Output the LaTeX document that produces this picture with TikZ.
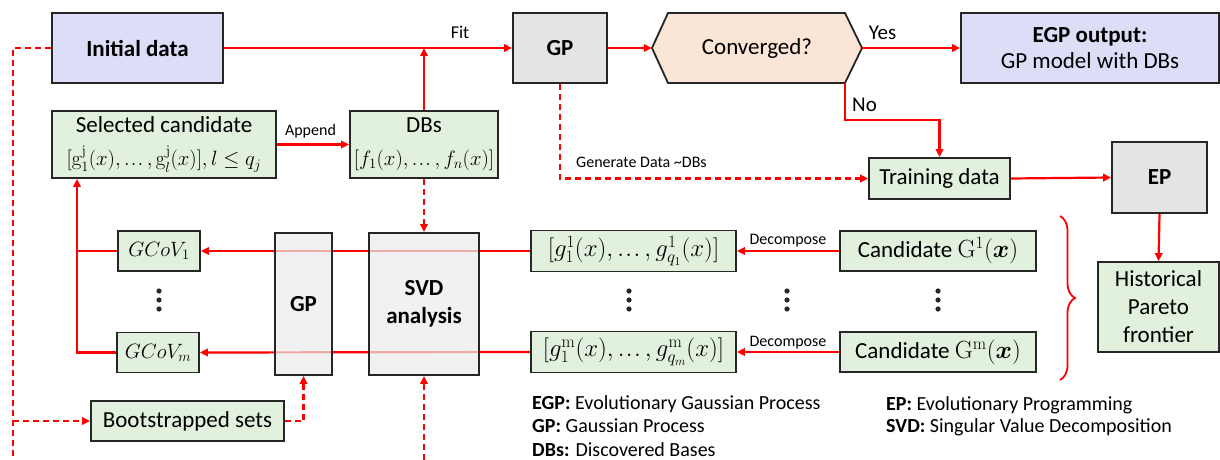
\documentclass[tikz,border=0pt]{standalone}
\usepackage{amsmath}
\usepackage[no-math]{fontspec}
\setmainfont{Carlito}
\usetikzlibrary{arrows.meta,decorations.pathreplacing}

\definecolor{ink}{RGB}{38,38,38}
\definecolor{flowred}{RGB}{255,0,0}
\definecolor{boxgreen}{RGB}{226,240,222}
\definecolor{boxlav}{RGB}{221,221,248}
\definecolor{boxgray}{RGB}{228,228,228}
\definecolor{boxlight}{RGB}{236,236,236}
\definecolor{boxpeach}{RGB}{251,229,214}

\newcommand\fbig{\fontsize{23}{28}\selectfont}
\newcommand\fsmall{\fontsize{16}{19}\selectfont}
\newcommand\flegend{\fontsize{20}{24}\selectfont}
\newcommand\fmath{\fontsize{21.5}{26}\selectfont}
% compact baseline ellipsis
\newcommand\elps{\mathinner{{.}\mkern1mu{.}\mkern1mu{.}}}

\tikzset{
  box/.style={draw=ink, line width=1.8pt, inner sep=0pt, align=center, font=\fbig},
  greenbox/.style={box, fill=boxgreen},
  lavbox/.style={box, fill=boxlav},
  graybox/.style={box, fill=boxgray},
  glassbox/.style={box, fill=boxlight, fill opacity=0.72, text opacity=1},
  flow/.style={draw=flowred, line width=2.2pt, -{Triangle[length=8pt,width=7.5pt]}},
  plainflow/.style={draw=flowred, line width=2.2pt},
  dflow/.style={flow, dash pattern=on 6pt off 4pt},
  dline/.style={plainflow, dash pattern=on 6pt off 4pt},
  tag/.style={inner sep=0pt, anchor=base, font=\fsmall},
  legend/.style={inner sep=0pt, anchor=base west, font=\flegend},
}

\begin{document}
\begin{tikzpicture}[x=1pt,y=-1pt]
\useasboundingbox (0,0) rectangle (1220,460);

% ---- top row ----
\node[lavbox, minimum width=171pt, minimum height=70pt, font=\fbig\bfseries] (init) at (137.5,48) {Initial data};
\node[graybox, minimum width=94pt, minimum height=70pt, font=\fbig\bfseries] (gpfit) at (560,48) {GP};
\path[draw=ink, line width=1.8pt, fill=boxpeach] (652,48) -- (668,13) -- (845,13) -- (862,48) -- (845,83) -- (668,83) -- cycle;
\node[inner sep=0pt, minimum width=210pt, minimum height=70pt, font=\fbig] (conv) at (757,48) {Converged?};
\coordinate (convcorner) at (845,83);
\node[lavbox, minimum width=258pt, minimum height=70pt, font=\fontsize{23}{26}\selectfont] (egp) at (1090,48) {\textbf{EGP output:}\\GP model with DBs};

% ---- second row ----
\node[greenbox, minimum width=224pt, minimum height=67pt, font=\fontsize{23}{33}\selectfont] (sel) at (164,144.5)
  {Selected candidate\\{\fontsize{22.5}{26}\selectfont$[\mathrm{g}^{\mathrm{j}}_1(x),\elps,\mathrm{g}^{\mathrm{j}}_l(x)], l\leq q_j$}};
\node[greenbox, minimum width=148pt, minimum height=67pt, font=\fontsize{23}{33}\selectfont] (dbs) at (424,144.5)
  {DBs\\{\fmath$[f_1(x),\elps,f_n(x)]$}};
\node[greenbox, minimum width=141pt, minimum height=41pt] (train) at (939.5,178.5) {Training data};
\node[graybox, minimum width=95pt, minimum height=71pt, font=\fbig\bfseries] (ep) at (1159.5,177.5) {EP};
\node[greenbox, minimum width=121pt, minimum height=90pt] (hist) at (1158.5,307) {Historical\\Pareto\\frontier};

% ---- candidate rows ----
\node[greenbox, minimum width=196pt, minimum height=40pt] (cand1) at (938,251) {Candidate $\mathrm{G}^{1}(\boldsymbol{x})$};
\node[greenbox, minimum width=196pt, minimum height=40pt] (candm) at (938,352) {Candidate $\mathrm{G}^{\mathrm{m}}(\boldsymbol{x})$};
\node[greenbox, minimum width=205pt, minimum height=41pt] (dec1) at (633.5,251) {$[g^1_1(x),\elps,g^1_{q_1}(x)]$};
\node[greenbox, minimum width=205pt, minimum height=41pt] (decm) at (633.5,352) {$[g^{\mathrm{m}}_1(x),\elps,g^{\mathrm{m}}_{q_m}(x)]$};
\node[greenbox, minimum width=82pt, minimum height=40pt, font=\fmath] (cov1) at (159,251) {$GCoV_1$};
\node[greenbox, minimum width=82pt, minimum height=40pt, font=\fmath] (covm) at (158,352.5) {$GCoV_m$};
\node[greenbox, minimum width=193pt, minimum height=40pt] (boot) at (187.5,421) {Bootstrapped sets};

% long returns run underneath the GP and SVD blocks
\draw[flow] (dec1.west) -- (cov1.east);
\draw[flow] (decm.west) -- (covm.east);

\node[glassbox, minimum width=57pt, minimum height=142pt, font=\fbig\bfseries] (gpboot) at (303.5,304) {GP};
\node[glassbox, minimum width=110pt, minimum height=142pt, font=\fontsize{23}{28}\selectfont\bfseries] (svd) at (424,304) {SVD\\analysis};

% vertical ellipses
\foreach \x in {159,629,787,938}
  \foreach \y in {291,300,309}
    \fill[ink] (\x,\y) circle (2.6pt);

% ---- connectors ----
\draw[flow] (init.east) -- (gpfit.west);
\draw[flow] (dbs.north) -- (dbs.north |- init.east);
\draw[flow] (gpfit.east) -- (conv.west);
\draw[flow] (conv.east) -- (egp.west);
\draw[flow] (convcorner) -- (845,120) -| (train.north);
\draw[dflow] (gpfit.south) |- (train.west);
\draw[flow] (train.east) -- (ep.west);
\draw[flow] (ep.south) -- (hist.north);
\draw[flow] (sel.east) -- (dbs.west);
\draw[dflow] (dbs.south) -- (svd.north);
\draw[flow] (cand1.west) -- (dec1.east);
\draw[flow] (candm.west) -- (decm.east);

\coordinate (rail) at (77,0);
\draw[plainflow] (cov1.west) -- (cov1.west -| rail);
\draw[flow] (covm.west) -| (sel.south -| rail);

\coordinate (dashrail) at (13,460);
\draw[dline] (init.west) -| (dashrail);
\draw[dflow] (boot.west -| dashrail) -- (boot.west);
\draw[dflow] (boot.east) -| (gpboot.south);
\coordinate (svdfeed) at (424,460);
\draw[dflow] (svdfeed) -- (svd.south);

% brace grouping the candidates
\draw[flowred, line width=1.8pt, decorate, decoration={brace, amplitude=15pt}] (1060,216) -- (1060,380);

% ---- connector labels ----
\node[tag, font=\fontsize{18}{20}\selectfont] (fitlbl) at (460,39) {Fit};
\node[tag, font=\fontsize{21}{24}\selectfont] (yeslbl) at (882.5,40) {Yes};
\node[tag, font=\fontsize{21}{24}\selectfont] (nolbl) at (864.5,111) {No};
\node[tag] (applbl) at (310.5,135) {Append};
\node[tag, anchor=base west] (genlbl) at (576,167) {Generate Data \textasciitilde DBs};
\node[tag] (dec1lbl) at (788,244) {Decompose};
\node[tag] (decmlbl) at (788,346) {Decompose};

% ---- legend ----
\node[legend] (lgegp) at (532,409) {\textbf{EGP:} Evolutionary Gaussian Process};
\node[legend] (lggp) at (532,432) {\textbf{GP:} Gaussian Process};
\node[legend] (lgdbs) at (532,456) {\textbf{DBs:} Discovered Bases};
\node[legend] (lgep) at (886,410) {\textbf{EP:} Evolutionary Programming};
\node[legend] (lgsvd) at (886,432) {\textbf{SVD:} Singular Value Decomposition};
\end{tikzpicture}
\end{document}
